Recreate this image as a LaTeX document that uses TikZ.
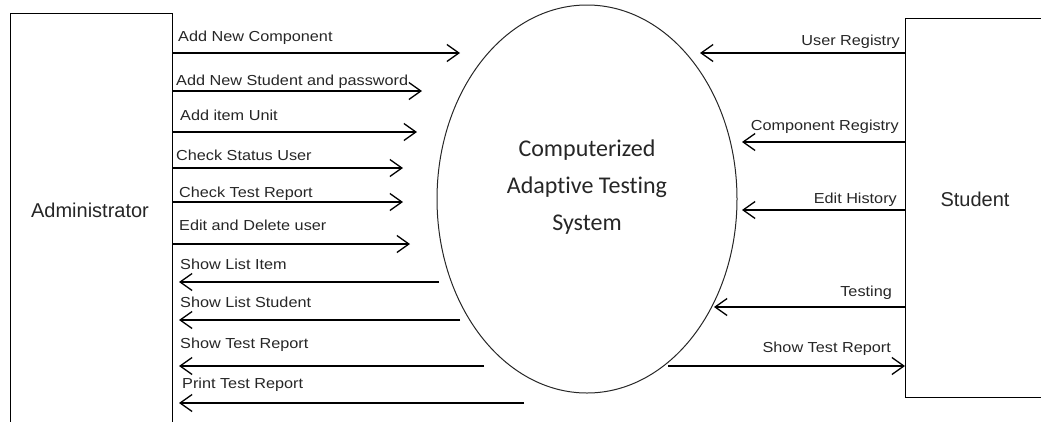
\documentclass[tikz,border=0pt]{standalone}
\usepackage{fontspec}
\setmainfont{Liberation Sans}
\newfontfamily\labfont[FakeStretch=1.12]{Liberation Sans}
\newfontfamily\calfont[Ligatures=NoCommon]{Carlito}
\usetikzlibrary{arrows.meta,shapes.geometric}
\begin{document}
\begin{tikzpicture}[x=1pt,y=-1pt,
  box/.style={draw=black, line width=1.3pt, rectangle, inner sep=0pt, anchor=north west},
  proc/.style={draw=black!85, line width=1pt, ellipse, inner sep=0pt, minimum width=300pt, minimum height=388pt},
  flow/.style={line width=1.4pt, -{Straight Barb[length=12pt,width=17pt,line width=1.3pt]}},
  lab/.style={font=\labfont\fontsize{14.5}{16}\selectfont, text=black!85, inner sep=0pt},
  entlab/.style={font=\fontsize{20}{22}\selectfont, text=black!85, inner sep=0pt},
  ]
\useasboundingbox (0,0) rectangle (1041,421);
% entities
\node[box, minimum width=162pt, minimum height=412pt] (admin) at (10,13) {};
\node[box, minimum width=141pt, minimum height=379pt] (stud) at (905,18) {};
\node[proc] (cat) at (587,199) {};
\node[entlab] (admintxt) at (90,210) {Administrator};
\node[entlab] (studtxt) at (975,199) {Student};
\node[font=\calfont\fontsize{24}{37}\selectfont, text=black!85, align=center, inner sep=0pt] (cattxt) at (587,187)
  {Computerized\\Adaptive Testing\\System};
% coordinates for free ends
\coordinate (a1) at (460,53);
\coordinate (a2) at (422,91);
\coordinate (a3) at (417,132);
\coordinate (a4) at (403,168);
\coordinate (a5) at (403,202);
\coordinate (a6) at (410,244);
\coordinate (b1s) at (439,282);   \coordinate (b1t) at (179,282);
\coordinate (b2s) at (460,320);   \coordinate (b2t) at (179,320);
\coordinate (b3s) at (484,366);   \coordinate (b3t) at (179,366);
\coordinate (b4s) at (524,403);   \coordinate (b4t) at (179,403);
\coordinate (s1) at (700,53);
\coordinate (s2) at (742,142);
\coordinate (s3) at (742,210);
\coordinate (s4) at (714,307);
\coordinate (s5) at (668,366);
% admin -> system
\draw[flow] (admin.east |- a1) -- (a1);
\draw[flow] (admin.east |- a2) -- (a2);
\draw[flow] (admin.east |- a3) -- (a3);
\draw[flow] (admin.east |- a4) -- (a4);
\draw[flow] (admin.east |- a5) -- (a5);
\draw[flow] (admin.east |- a6) -- (a6);
% system -> admin
\draw[flow] (b1s) -- (b1t);
\draw[flow] (b2s) -- (b2t);
\draw[flow] (b3s) -- (b3t);
\draw[flow] (b4s) -- (b4t);
% student <-> system
\draw[flow] (stud.west |- s1) -- (s1);
\draw[flow] (stud.west |- s2) -- (s2);
\draw[flow] (stud.west |- s3) -- (s3);
\draw[flow] (stud.west |- s4) -- (s4);
\draw[flow] (s5) -- (stud.west |- s5);
% admin labels
\node[lab, anchor=base west] (l1) at (178,41) {Add New Component};
\node[lab, anchor=base west] (l2) at (176,85) {Add New Student and password};
\node[lab, anchor=base west] (l3) at (180,120) {Add item Unit};
\node[lab, anchor=base west] (l4) at (176,160) {Check Status User};
\node[lab, anchor=base west] (l5) at (179,197) {Check Test Report};
\node[lab, anchor=base west] (l6) at (179,230) {Edit and Delete user};
\node[lab, anchor=base west] (l7) at (180,269) {Show List Item};
\node[lab, anchor=base west] (l8) at (180,307) {Show List Student};
\node[lab, anchor=base west] (l9) at (180,348.5) {Show Test Report};
\node[lab, anchor=base west] (l10) at (182,388) {Print Test Report};
% student labels
\node[lab, anchor=base east] (r1) at (900,45) {User Registry};
\node[lab, anchor=base east] (r2) at (899,130) {Component Registry};
\node[lab, anchor=base east] (r3) at (897,203) {Edit History};
\node[lab, anchor=base east] (r4) at (892,296) {Testing};
\node[lab, anchor=base east] (r5) at (891,352) {Show Test Report};
\end{tikzpicture}
\end{document}
